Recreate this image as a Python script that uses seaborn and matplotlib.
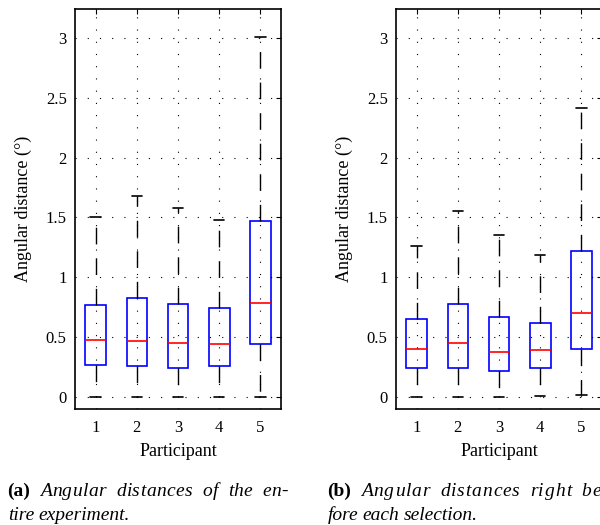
import numpy as np
import pandas as pd
import matplotlib
matplotlib.use("Agg")
import matplotlib.pyplot as plt
import seaborn as sns

participants = ["1", "2", "3", "4", "5"]

# (a) entire experiment: whisker low, Q1, median, Q3, whisker high
a_low = [0.0, 0.0, 0.0, 0.0, 0.0]
a_q1 = [0.27, 0.255, 0.24, 0.255, 0.445]
a_med = [0.475, 0.47, 0.455, 0.44, 0.785]
a_q3 = [0.767, 0.83, 0.78, 0.74, 1.47]
a_high = [1.50, 1.68, 1.58, 1.475, 3.01]

# (b) right before each selection
b_low = [0.0, 0.0, 0.0, 0.005, 0.015]
b_q1 = [0.24, 0.245, 0.217, 0.24, 0.40]
b_med = [0.40, 0.45, 0.375, 0.395, 0.70]
b_q3 = [0.65, 0.775, 0.667, 0.62, 1.22]
b_high = [1.26, 1.55, 1.35, 1.19, 2.41]

y_ticks = [0, 0.5, 1, 1.5, 2, 2.5, 3]
y_tick_labels = ["0", "0.5", "1", "1.5", "2", "2.5", "3"]

sns.set_theme(style="white")
plt.rcParams["font.family"] = ["Liberation Serif", "DejaVu Serif"]

W, H = 600, 525
fig = plt.figure(figsize=(W / 100, H / 100), dpi=100)


def axes_px(x0, x1, y0, y1):
    return fig.add_axes([x0 / W, 1 - y1 / H, (x1 - x0) / W, (y1 - y0) / H])


def draw(ax, low, q1, med, q3, high):
    rows = []
    for p, l, a, m, b, h in zip(participants, low, q1, med, q3, high):
        for v in (l, a, m, b, h):
            rows.append({"Participant": p, "value": v})
    df = pd.DataFrame(rows)
    sns.boxplot(
        data=df, x="Participant", y="value", order=participants, ax=ax,
        width=0.5, whis=np.inf, showfliers=False,
        boxprops=dict(facecolor="none", edgecolor="blue", linewidth=1.2),
        medianprops=dict(color="red", linewidth=1.2),
        whiskerprops=dict(color="black", linewidth=1.0, linestyle=(0, (12, 10))),
        capprops=dict(color="black", linewidth=1.2),
    )
    ax.set_xlim(-0.5, 4.5)
    ax.set_ylim(-0.1, 3.24)
    ax.set_yticks(y_ticks)
    ax.set_yticklabels(y_tick_labels)
    ax.grid(True, color="black", linestyle=(0, (1, 10)), linewidth=0.8)
    ax.set_axisbelow(False)
    ax.tick_params(axis="both", direction="in", top=True, right=True,
                   length=3.5, width=0.8, labelsize=12, colors="black")
    ax.tick_params(axis="y", pad=6)
    ax.tick_params(axis="x", pad=8)
    for s in ax.spines.values():
        s.set_visible(True)
        s.set_color("black")
        s.set_linewidth(1.2)
    ax.set_xlabel("Participant", fontsize=13, labelpad=5, color="black")
    ax.set_ylabel("Angular distance (°)", fontsize=13, labelpad=10, color="black")
    ax.set_facecolor("white")


ax1 = axes_px(75, 281, 9, 409)
ax2 = axes_px(396, 602, 9, 409)
draw(ax1, a_low, a_q1, a_med, a_q3, a_high)
draw(ax2, b_low, b_q1, b_med, b_q3, b_high)

renderer = fig.canvas.get_renderer()


def caption_line(x0, x1, y, tag, words, justify=True, word_gap=6.0):
    """Place a bold tag and italic words; justified lines get letter spacing."""
    def make(s, weight, style):
        return fig.text(0, 1 - y / H, s, fontsize=14, fontweight=weight,
                        fontstyle=style, va="baseline", ha="left", color="black")

    groups = []
    if tag:
        groups.append([make(tag, "bold", "normal")])
    for w in words:
        if justify:
            groups.append([make(c, "normal", "italic") for c in w])
        else:
            groups.append([make(w, "normal", "italic")])
    widths = [[t.get_window_extent(renderer).width for t in g] for g in groups]
    total = sum(sum(ws) for ws in widths)
    n_letter_gaps = sum(len(g) - 1 for g in groups[1 if tag else 0:])
    if justify and n_letter_gaps > 0:
        letter_gap = (x1 - x0 - total - word_gap * (len(groups) - 1)) / n_letter_gaps
    else:
        letter_gap = 0.0
    x = x0
    for gi, (g, ws) in enumerate(zip(groups, widths)):
        for ti, (t, w) in enumerate(zip(g, ws)):
            t.set_x(x / W)
            x += w
            if ti < len(g) - 1:
                x += letter_gap
        x += word_gap


caption_line(7, 288, 496, "(a)", "Angular distances of the en-".split(), word_gap=10)
caption_line(8, 288, 520, None, "tire experiment.".split(), justify=False, word_gap=4)
caption_line(327, 608, 496, "(b)", "Angular distances right be-".split(), word_gap=10)
caption_line(328, 608, 520, None, "fore each selection.".split(), justify=False, word_gap=4)

fig.savefig("out.png", dpi=100, facecolor="white")
